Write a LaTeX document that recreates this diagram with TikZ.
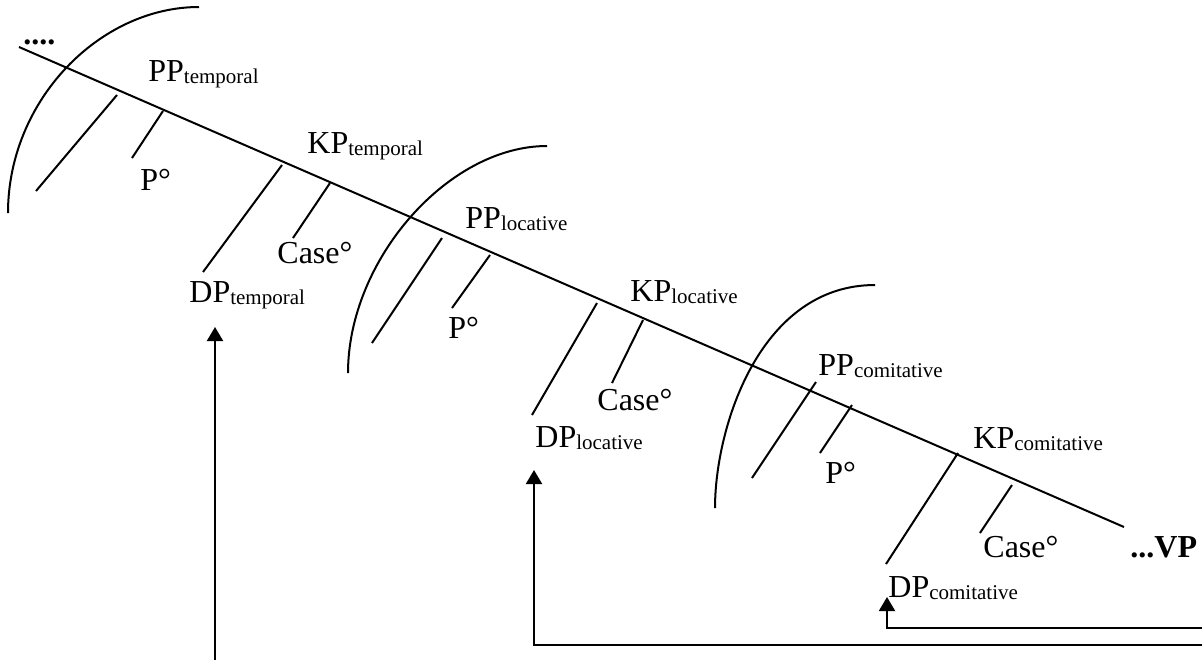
\documentclass[tikz,border=0pt]{standalone}
\usepackage{fontspec}
\setmainfont{Liberation Serif}
\usetikzlibrary{arrows.meta}
\newcommand\subtxt[1]{{\fontsize{10.5}{12}\selectfont\raisebox{-1.3pt}{#1}}}
\begin{document}
\begin{tikzpicture}[x=0.5pt,y=-0.5pt,
  lab/.style={inner sep=0pt,anchor=base west,font=\fontsize{16}{19}\selectfont},
  ln/.style={line width=1pt},
  arc/.style={line width=1pt},
  arr/.style={line width=1pt,-{Triangle[width=8pt,length=7pt]}}]
\useasboundingbox (0,0) rectangle (1202,660);
% main spine
\coordinate (s0) at (19,47);
\coordinate (s1) at (1124,527);
\draw[ln] (s0) -- (s1);
% arcs
\draw[arc] (199,7) .. controls (100,7) and (8,100) .. (8,213);
\draw[arc] (547,146) .. controls (448,146) and (348,260) .. (348,373);
\draw[arc] (875,285) .. controls (760,285) and (715,427) .. (715,508);
% branches
\foreach \n/\a/\b/\c/\d in {
  b1/117/95/36/191, b2/163/111/132/158,
  b3/282/165/203/272, b4/330/183/293/238,
  b5/442/238/372/343, b6/490/255/452/308,
  b7/597/303/532/415, b8/643/320/612/383,
  b9/816/382/752/478, b10/852/405/820/453,
  b11/958/453/886/564, b12/1012/485/980/533}{
  \coordinate (\n t) at (\a,\b);
  \coordinate (\n e) at (\c,\d);
  \draw[ln] (\n t) -- (\n e);
}
% labels
\node[lab,font=\fontsize{16}{19}\selectfont\bfseries] (dots) at (23,44) {....};
\node[lab] (pptemp) at (148,81) {PP\subtxt{temporal}};
\node[lab] (p1) at (140,190) {P°};
\node[lab] (kptemp) at (307,153) {KP\subtxt{temporal}};
\node[lab] (case1) at (277,263) {Case°};
\node[lab] (dptemp) at (189,302) {DP\subtxt{temporal}};
\node[lab] (pploc) at (465,228) {PP\subtxt{locative}};
\node[lab] (p2) at (448,338) {P°};
\node[lab] (kploc) at (630,301) {KP\subtxt{locative}};
\node[lab] (case2) at (597,410) {Case°};
\node[lab] (dploc) at (535,447) {DP\subtxt{locative}};
\node[lab] (ppcom) at (818,375) {PP\subtxt{comitative}};
\node[lab] (p3) at (825,483) {P°};
\node[lab] (kpcom) at (973,448) {KP\subtxt{comitative}};
\node[lab] (case3) at (983,557) {Case°};
\node[lab,font=\fontsize{16}{19}\selectfont\bfseries] (vp) at (1130,557) {...VP};
\node[lab] (dpcom) at (888,597) {DP\subtxt{comitative}};
% arrows
\coordinate (a1s) at (215,660);
\coordinate (a1e) at (215,327);
\draw[arr] (a1s) -- (a1e);
\coordinate (a2s) at (1202,645);
\coordinate (a2e) at (534,470);
\draw[arr] (a2s) -| (a2e);
\coordinate (a3s) at (1202,628);
\coordinate (a3e) at (887,597);
\draw[arr] (a3s) -| (a3e);
\end{tikzpicture}
\end{document}
